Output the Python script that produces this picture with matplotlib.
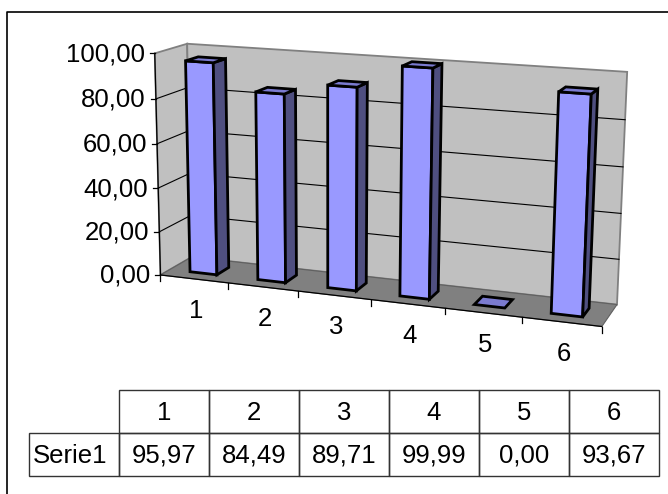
import numpy as np
import matplotlib.pyplot as plt
from matplotlib.patches import Polygon, Rectangle

# Datos del gráfico
categorias = ['1', '2', '3', '4', '5', '6']
serie1 = [95.97, 84.49, 89.71, 99.99, 0.00, 93.67]
nombre_serie = 'Serie1'
ticks_y = [0, 20, 40, 60, 80, 100]

plt.rcParams['font.family'] = ['Liberation Sans', 'DejaVu Sans']

n = len(categorias)
vmax = ticks_y[-1]

# Calibración de la perspectiva: esquinas de la caja 3D (x categoría, valor, profundidad) -> píxeles
esquinas_mundo = np.array([[0, vmax, 0], [0, 0, 0], [n, 0, 0], [0, vmax, 1],
                           [0, 0, 1], [n, vmax, 1], [n, 0, 1]], float)
esquinas_px = np.array([[153, 54], [162, 273], [602, 328], [189, 43],
                        [190, 259], [627, 72], [617, 303]], float)


def camara(mundo, px):
    # Matriz de proyección 3x4 por DLT (mínimos cuadrados)
    filas, b = [], []
    for (X, Y, Z), (u, w) in zip(mundo, px):
        Y = Y / vmax
        filas.append([X, Y, Z, 1, 0, 0, 0, 0, -u * X, -u * Y, -u * Z])
        b.append(u)
        filas.append([0, 0, 0, 0, X, Y, Z, 1, -w * X, -w * Y, -w * Z])
        b.append(w)
    p = np.linalg.lstsq(np.array(filas), np.array(b), rcond=None)[0]
    return np.append(p, 1).reshape(3, 4)


P = camara(esquinas_mundo, esquinas_px)


def proy(x, v, z):
    h = P @ np.array([x, v / vmax, z, 1.0])
    return h[0] / h[2], h[1] / h[2]


def poligono(ax, puntos, color, borde, lw, z=2):
    ax.add_patch(Polygon([proy(*p) for p in puntos], closed=True, facecolor=color,
                         edgecolor=borde, linewidth=lw, joinstyle='miter', zorder=z))


fig = plt.figure(figsize=(6.68, 4.94), dpi=100)
ax = fig.add_axes([0, 0, 1, 1])
ax.set_xlim(0, 668)
ax.set_ylim(494, 0)
ax.axis('off')

# Marco del área del gráfico
ax.plot([7, 7, 668], [494, 12, 12], color='black', linewidth=1.2)

# Paredes y suelo
poligono(ax, [(0, 0, 0), (0, 0, 1), (0, vmax, 1), (0, vmax, 0)], '#C0C0C0', '#808080', 1.3, 1)
poligono(ax, [(0, 0, 1), (n, 0, 1), (n, vmax, 1), (0, vmax, 1)], '#C0C0C0', '#808080', 1.3, 1)
poligono(ax, [(0, 0, 0), (n, 0, 0), (n, 0, 1), (0, 0, 1)], '#808080', '#606060', 0.8, 1)

# Líneas de cuadrícula en las paredes
for t in ticks_y[1:-1]:
    xs, ys = zip(proy(0, t, 0), proy(0, t, 1), proy(n, t, 1))
    ax.plot(xs, ys, color='black', linewidth=0.8, zorder=1.5)

# Eje de valores
xs, ys = zip(proy(0, 0, 0), proy(0, vmax, 0))
ax.plot(xs, ys, color='black', linewidth=0.9, zorder=3)
for t in ticks_y:
    u, w = proy(0, t, 0)
    ax.plot([u - 5, u], [w, w], color='black', linewidth=0.9, zorder=3)
    ax.text(u - 10, w + 1, f'{t:.2f}'.replace('.', ','), ha='right', va='center', fontsize=18.5)

# Eje de categorías
xs, ys = zip(proy(0, 0, 0), proy(n, 0, 0))
ax.plot(xs, ys, color='black', linewidth=0.9, zorder=3)
for i in range(n + 1):
    u, w = proy(i, 0, 0)
    ax.plot([u, u], [w, w + 6], color='black', linewidth=0.9, zorder=3)
for i, c in enumerate(categorias):
    u, w = proy(i + 0.5, 0, 0)
    ax.text(u + 2, w + 32, c, ha='center', va='center', fontsize=18.5)

# Columnas 3D
ancho = 0.4
z0, z1 = 0.3, 0.7
for i, v in enumerate(serie1):
    a, b = i + 0.5 - ancho / 2, i + 0.5 + ancho / 2
    if v > 0:
        poligono(ax, [(a, 0, z0), (b, 0, z0), (b, v, z0), (a, v, z0)], '#9999FF', 'black', 2, 4)
        poligono(ax, [(b, 0, z0), (b, 0, z1), (b, v, z1), (b, v, z0)], '#4F4F80', 'black', 2, 4)
    poligono(ax, [(a, v, z0), (b, v, z0), (b, v, z1), (a, v, z1)], '#7B7BD0', 'black', 2, 4)

# Tabla de datos
x_tabla, ancho_col = 29, 90
y_cab, alto_fila = 390, 43
for j, c in enumerate(categorias):
    x = x_tabla + ancho_col * (j + 1)
    ax.add_patch(Rectangle((x, y_cab), ancho_col, alto_fila, fill=False,
                           edgecolor='#333333', linewidth=1))
    ax.text(x + ancho_col / 2, y_cab + alto_fila / 2 + 1, c, ha='center', va='center', fontsize=18.5)
ax.add_patch(Rectangle((x_tabla, y_cab + alto_fila), ancho_col, alto_fila, fill=False,
                       edgecolor='#333333', linewidth=1))
ax.text(x_tabla + 4, y_cab + 1.5 * alto_fila + 1, nombre_serie, ha='left', va='center', fontsize=18.5)
for j, v in enumerate(serie1):
    x = x_tabla + ancho_col * (j + 1)
    ax.add_patch(Rectangle((x, y_cab + alto_fila), ancho_col, alto_fila, fill=False,
                           edgecolor='#333333', linewidth=1))
    ax.text(x + ancho_col / 2, y_cab + 1.5 * alto_fila + 1, f'{v:.2f}'.replace('.', ','),
            ha='center', va='center', fontsize=18.5)

fig.savefig('out.png', dpi=100)
